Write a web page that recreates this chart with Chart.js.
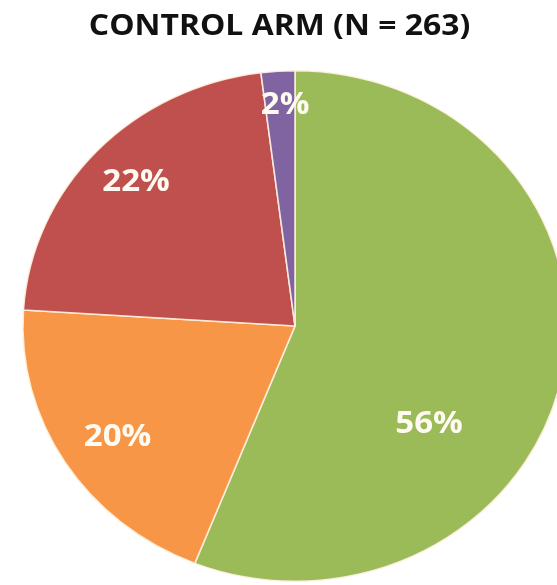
<!DOCTYPE html>
<html>
<head>
<meta charset="utf-8">
<script src="https://cdn.jsdelivr.net/npm/chart.js@4/dist/chart.umd.min.js"></script>
<style>
html,body{margin:0;padding:0;background:#fff;overflow:hidden;}
#wrap{width:557px;height:585px;position:relative;}
</style>
</head>
<body>
<div id="wrap"><canvas id="c"></canvas></div>
<script>
const categories = ['Green', 'Orange', 'Red', 'Purple'];
const values = [56, 20, 22, 2];
const valueLabels = ['56%', '20%', '22%', '2%'];
const colors = ['#9BBB59', '#F79646', '#C0504D', '#8064A2'];
const titleText = 'CONTROL ARM (N = 263)';

const stretchX = 1.066;
const labelRadius = [0.622, 0.783, 0.815, 0.87];
const labelAngleFrac = [0.633, 0.483, 0.513, 0.67];
const FONT = '"Open Sans", Lato, sans-serif';

const stretchPlugin = {
  id: 'stretch',
  beforeDatasetsDraw(chart) {
    const meta = chart.getDatasetMeta(0);
    const a = meta.data[0];
    const ctx = chart.ctx;
    ctx.save();
    ctx.translate(a.x, a.y);
    ctx.scale(stretchX, 1);
    ctx.translate(-a.x, -a.y);
  },
  afterDatasetsDraw(chart) {
    const ctx = chart.ctx;
    ctx.restore();
    const meta = chart.getDatasetMeta(0);
    meta.data.forEach((arc, i) => {
      const p = arc.getProps(['x','y','startAngle','endAngle','outerRadius'], true);
      const ang = p.startAngle + (p.endAngle - p.startAngle) * labelAngleFrac[i];
      const r = p.outerRadius * labelRadius[i];
      const x = p.x + Math.cos(ang) * r * stretchX;
      const y = p.y + Math.sin(ang) * r;
      ctx.save();
      ctx.translate(x, y);
      ctx.scale(stretchX, 1);
      ctx.font = 'bold 31px ' + FONT;
      ctx.fillStyle = '#FFFBF2';
      ctx.textAlign = 'center';
      ctx.textBaseline = 'middle';
      ctx.fillText(valueLabels[i], 0, 1);
      ctx.restore();
    });
  },
  afterDraw(chart) {
    const ctx = chart.ctx;
    ctx.save();
    ctx.translate(chart.width / 2 + 1, 35);
    ctx.scale(1.1, 1);
    ctx.font = 'bold 29px ' + FONT;
    ctx.fillStyle = '#111';
    ctx.textAlign = 'center';
    ctx.textBaseline = 'alphabetic';
    ctx.fillText(titleText, 0, 0);
    ctx.restore();
  }
};

function build() {
  new Chart(document.getElementById('c'), {
    type: 'pie',
    data: {
      labels: categories,
      datasets: [{
        data: values,
        backgroundColor: colors,
        borderColor: 'rgba(255,242,225,0.9)',
        borderWidth: 1.5,
        hoverOffset: 0,
        offset: 0
      }]
    },
    options: {
      responsive: true,
      maintainAspectRatio: false,
      animation: false,
      events: [],
      layout: { padding: { left: 39, right: 6, top: 70, bottom: 3 } },
      plugins: {
        legend: { display: false },
        tooltip: { enabled: false },
        title: { display: false }
      }
    },
    plugins: [stretchPlugin]
  });
}

Promise.all([
  document.fonts.load('bold 29px "Open Sans"'),
  document.fonts.load('bold 31px "Open Sans"')
]).then(build, build);
</script>
</body>
</html>
